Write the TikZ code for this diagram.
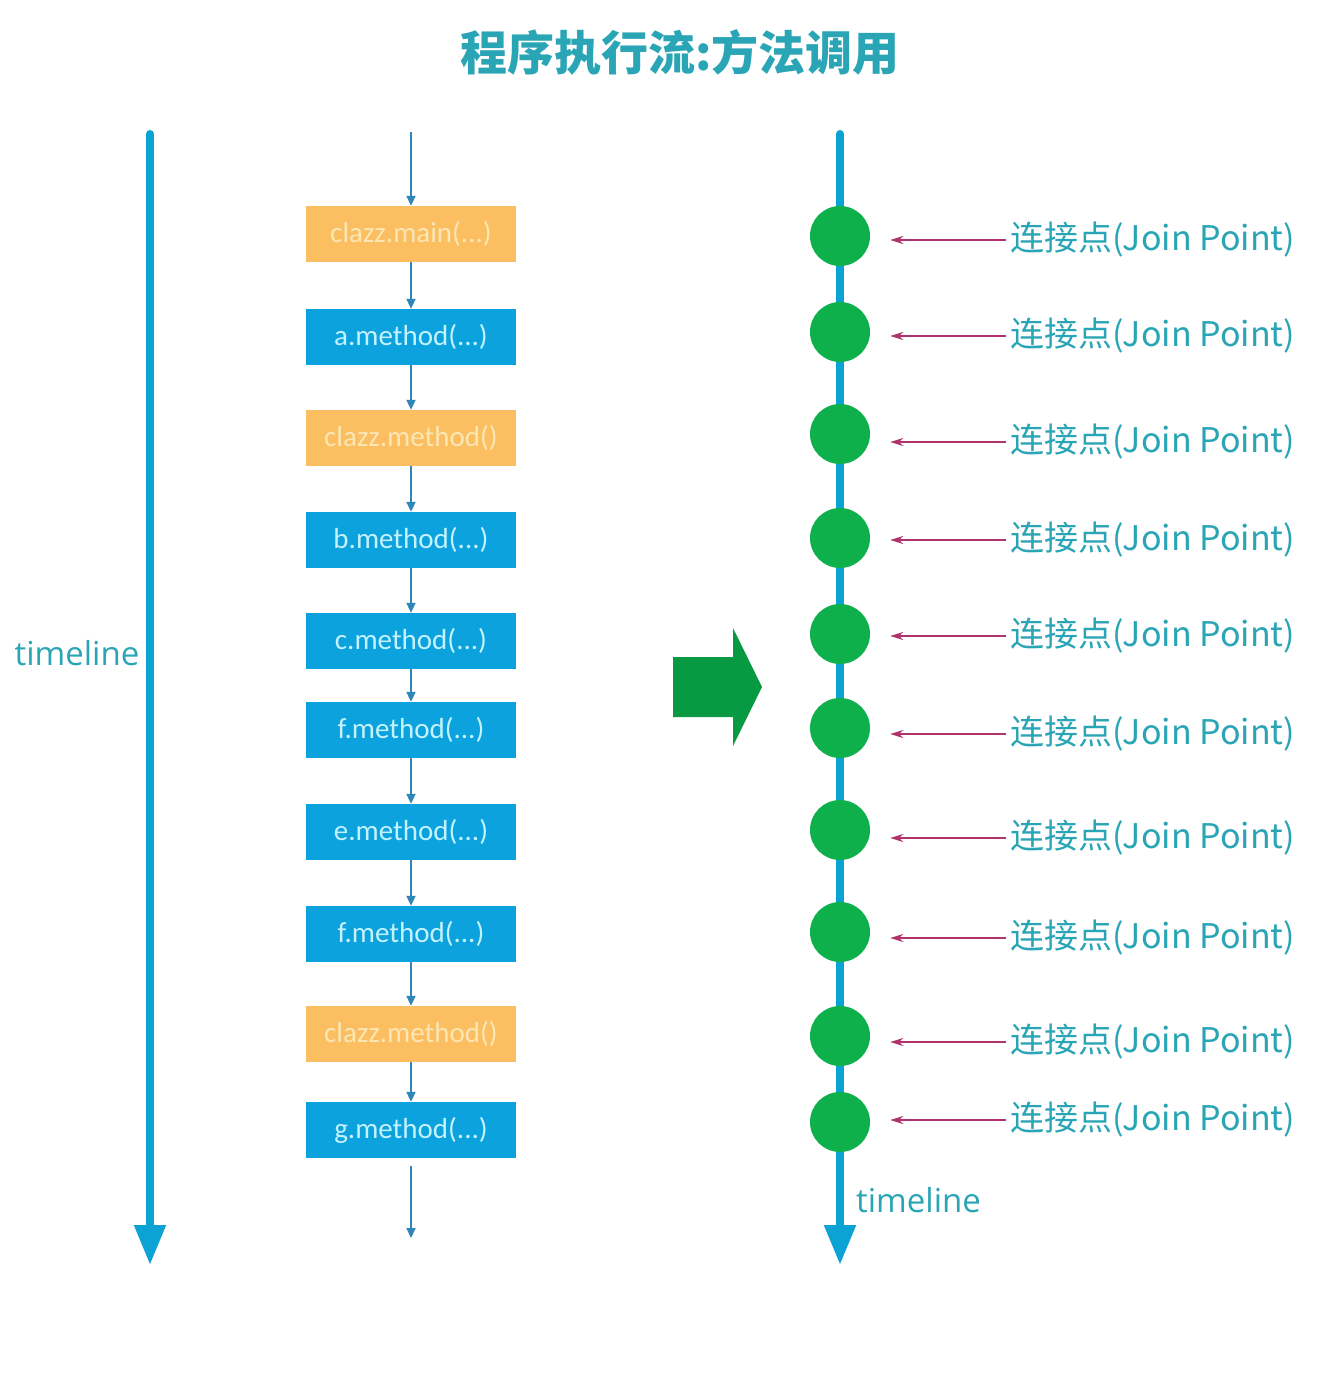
\documentclass[tikz,border=0pt]{standalone}
\usepackage{fontspec}
\newfontfamily\cjk{Noto Sans CJK SC}
\newfontfamily\latf{Carlito}
\newfontfamily\opf{Open Sans}
\usetikzlibrary{arrows.meta}
\definecolor{tlblue}{HTML}{0AA3D3}
\definecolor{teal}{HTML}{2AA5B5}
\definecolor{boxblue}{HTML}{0BA2DE}
\definecolor{boxorange}{HTML}{FBBE60}
\definecolor{txtblue}{HTML}{C4F2FF}
\definecolor{txtorange}{HTML}{FBE7B5}
\definecolor{flow}{HTML}{2F86B8}
\definecolor{jpgreen}{HTML}{0DB04B}
\definecolor{bigarrow}{HTML}{079A42}
\definecolor{magentaline}{HTML}{B0336E}
\tikzset{
  mbox/.style={minimum width=210pt, minimum height=56pt, inner sep=0pt, font=\latf\fontsize{29}{32}\selectfont},
  bluebox/.style={mbox, fill=boxblue, text=txtblue},
  orangebox/.style={mbox, fill=boxorange, text=txtorange},
  flowarrow/.style={draw=flow, line width=2pt, -{Triangle[length=10pt,width=9pt]}},
  timeline/.style={draw=tlblue, line width=8pt, line cap=round, -{Triangle[length=40pt,width=30pt]}},
  jp/.style={circle, fill=jpgreen, minimum size=60pt, inner sep=0pt},
  jplabel/.style={anchor=west, inner sep=0pt, text=teal, font=\cjk\fontsize{34}{38}\selectfont},
  jparrow/.style={draw=magentaline, line width=2pt, -{Stealth[length=13pt,width=8pt]}, shorten >=20pt},
  tltext/.style={text=teal, font=\opf\fontsize{33}{38}\selectfont, inner sep=0pt}
}
\begin{document}
\begin{tikzpicture}[x=1pt,y=-1pt]
\useasboundingbox[fill=white] (0,0) rectangle (1326,1386);

% title
\node[text=teal, font=\cjk\bfseries\fontsize{47}{52}\selectfont] (title) at (680,52) {程序执行流:方法调用};

% left timeline
\coordinate (lt0) at (150,134);
\coordinate (lt1) at (150,1265);
\draw[timeline] (lt0) -- (lt1);
\node[tltext] (ltl) at (77,653) {timeline};

% method boxes
\node[orangebox] (b1) at (411,234) {clazz.main(...)};
\node[bluebox] (b2) at (411,337) {a.method(...)};
\node[orangebox] (b3) at (411,438) {clazz.method()};
\node[bluebox] (b4) at (411,540) {b.method(...)};
\node[bluebox] (b5) at (411,641) {c.method(...)};
\node[bluebox] (b6) at (411,730) {f.method(...)};
\node[bluebox] (b7) at (411,832) {e.method(...)};
\node[bluebox] (b8) at (411,934) {f.method(...)};
\node[orangebox] (b9) at (411,1034) {clazz.method()};
\node[bluebox] (b10) at (411,1130) {g.method(...)};
\coordinate (s0) at (411,132);
\coordinate (e0) at (411,1238);
\draw[flowarrow] (s0) -- (b1.north);
\foreach \a/\b in {b1/b2,b2/b3,b3/b4,b4/b5,b5/b6,b6/b7,b7/b8,b8/b9,b9/b10}
  \draw[flowarrow] (\a.south) -- (\b.north);
\draw[flowarrow] ([yshift=-8pt]b10.south) -- (e0);

% green block arrow
\fill[bigarrow] (673,657) -- (733,657) -- (733,628) -- (762,687) -- (733,746) -- (733,717) -- (673,717) -- cycle;

% right timeline
\coordinate (rt0) at (840,134);
\coordinate (rt1) at (840,1265);
\draw[timeline] (rt0) -- (rt1);
\node[tltext, anchor=west] (rtl) at (856,1200) {timeline};

\foreach \i/\cy/\ly in {1/236/240, 2/332/336, 3/434/442, 4/538/540, 5/634/636, 6/728/734, 7/830/838, 8/932/938, 9/1036/1042, 10/1122/1120}{
  \node[jp] (c\i) at (840,\cy) {};
  \node[jplabel] (l\i) at (1010,\ly) {连接点(Join Point)};
  \draw[jparrow] ([xshift=-4pt]l\i.west) -- (c\i.east |- l\i.west);
}
\end{tikzpicture}
\end{document}
